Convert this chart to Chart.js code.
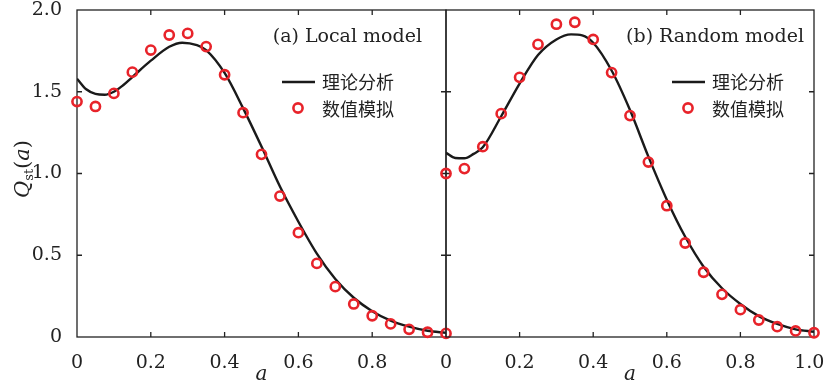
<!DOCTYPE html>
<html>
<head>
<meta charset="utf-8">
<script src="https://cdn.jsdelivr.net/npm/chart.js@4.4.0/dist/chart.umd.min.js"></script>
<style>
  html, body { margin: 0; padding: 0; background: #fff; }
  #wrap { position: relative; width: 825px; height: 387px; }
  #wrap canvas { position: absolute; left: 0; top: 0; }
</style>
</head>
<body>
<div id="wrap">
  <canvas id="chartLocal" width="825" height="387"></canvas>
  <canvas id="chartRandom" width="825" height="387"></canvas>
</div>
<script>
// simulation points (red circles), a = 0 .. 1 step 0.05
const simA = [0, 0.05, 0.1, 0.15, 0.2, 0.25, 0.3, 0.35, 0.4, 0.45, 0.5,
              0.55, 0.6, 0.65, 0.7, 0.75, 0.8, 0.85, 0.9, 0.95, 1.0];
const localSim = [1.44, 1.41, 1.49, 1.62, 1.755, 1.847, 1.857, 1.776, 1.604, 1.372, 1.117,
                  0.862, 0.638, 0.45, 0.308, 0.202, 0.13, 0.08, 0.047, 0.029, 0.022];
const randomSim = [1.0, 1.03, 1.164, 1.366, 1.588, 1.79, 1.913, 1.925, 1.82, 1.617, 1.354,
                   1.07, 0.803, 0.575, 0.396, 0.261, 0.167, 0.104, 0.063, 0.037, 0.026];

// theory curves (black lines)
const localCurveA = [0, 0.025, 0.05, 0.075, 0.1, 0.125, 0.15, 0.2, 0.25, 0.285, 0.325, 0.35,
                     0.4, 0.45, 0.5, 0.55, 0.6, 0.65, 0.7, 0.75, 0.8, 0.85, 0.9, 0.95, 1.0];
const localTheory = [1.58, 1.515, 1.487, 1.482, 1.50, 1.54, 1.59, 1.69, 1.775, 1.80, 1.785, 1.755,
                     1.615, 1.40, 1.165, 0.92, 0.705, 0.51, 0.355, 0.24, 0.158, 0.10, 0.063, 0.038, 0.025];
const randomCurveA = [0, 0.025, 0.05, 0.075, 0.1, 0.15, 0.2, 0.25, 0.3, 0.34, 0.37, 0.4,
                      0.45, 0.5, 0.55, 0.6, 0.65, 0.7, 0.75, 0.8, 0.85, 0.9, 0.95, 1.0];
const randomTheory = [1.127, 1.095, 1.093, 1.12, 1.16, 1.35, 1.55, 1.725, 1.82, 1.851, 1.845, 1.80,
                      1.63, 1.388, 1.103, 0.84, 0.613, 0.43, 0.298, 0.202, 0.128, 0.08, 0.047, 0.032];

const xTickLabels = ['0', '0.2', '0.4', '0.6', '0.8', '1.0'];
const yTickLabels = ['0', '0.5', '1.0', '1.5', '2.0'];
const legendLabels = ['理论分析', '数值模拟'];
const panelTitles = ['(a) Local model', '(b) Random model'];

const SERIF = "'DejaVu Serif', serif";
const CJK = "'Noto Sans CJK SC', sans-serif";
const RED = '#e8232a';
const INK = '#1a1a1a';

function toPoints(xs, ys) {
    return xs.map((x, i) => ({ x: x, y: ys[i] }));
}

// frame, inward ticks, panel title and legend
const panelPlugin = {
    id: 'panel',
    beforeDatasetsDraw(chart) {
        const ctx = chart.ctx;
        const a = chart.chartArea;
        const xs = chart.scales.x, ys = chart.scales.y;
        ctx.save();
        ctx.strokeStyle = '#222';
        ctx.lineWidth = 1.3;
        ctx.strokeRect(a.left, a.top, a.right - a.left, a.bottom - a.top);
        ctx.beginPath();
        xs.ticks.forEach(t => {
            const px = xs.getPixelForValue(t.value);
            if (px <= a.left + 1 || px >= a.right - 1) return;
            ctx.moveTo(px, a.bottom); ctx.lineTo(px, a.bottom - 5);
            ctx.moveTo(px, a.top); ctx.lineTo(px, a.top + 5);
        });
        ys.ticks.forEach(t => {
            const py = ys.getPixelForValue(t.value);
            if (py <= a.top + 1 || py >= a.bottom - 1) return;
            ctx.moveTo(a.left, py); ctx.lineTo(a.left + 5, py);
            ctx.moveTo(a.right, py); ctx.lineTo(a.right - 5, py);
        });
        ctx.stroke();
        ctx.restore();
    },
    afterDatasetsDraw(chart, args, opts) {
        const ctx = chart.ctx;
        const a = chart.chartArea;
        ctx.save();
        ctx.fillStyle = '#222';
        ctx.font = '19px ' + SERIF;
        ctx.textAlign = 'right';
        ctx.textBaseline = 'middle';
        ctx.fillText(opts.title, a.right - opts.titleGap, a.top + 27);

        const lx = a.right - opts.legendGap;
        ctx.strokeStyle = INK;
        ctx.lineWidth = 2.4;
        ctx.beginPath();
        ctx.moveTo(lx, a.top + 72);
        ctx.lineTo(lx + 33, a.top + 72);
        ctx.stroke();
        ctx.strokeStyle = RED;
        ctx.lineWidth = 2.6;
        ctx.beginPath();
        ctx.arc(lx + 16, a.top + 98, 4.6, 0, Math.PI * 2);
        ctx.stroke();
        ctx.font = '18px ' + CJK;
        ctx.textAlign = 'left';
        ctx.fillText(legendLabels[0], lx + 40, a.top + 72);
        ctx.fillText(legendLabels[1], lx + 40, a.top + 99);

        if (opts.yTitle) {
            ctx.translate(22, 169);
            ctx.rotate(-Math.PI / 2);
            ctx.textAlign = 'left';
            ctx.textBaseline = 'alphabetic';
            const parts = [
                { t: 'Q', f: 'italic 21px ' + SERIF, dy: 0 },
                { t: 'st', f: '13px ' + SERIF, dy: 4 },
                { t: '(', f: '21px ' + SERIF, dy: 0 },
                { t: 'a', f: 'italic 21px ' + SERIF, dy: 0 },
                { t: ')', f: '21px ' + SERIF, dy: 0 }
            ];
            let total = 0;
            parts.forEach(p => { ctx.font = p.f; p.w = ctx.measureText(p.t).width; total += p.w; });
            let x = -total / 2;
            parts.forEach(p => {
                ctx.font = p.f;
                ctx.fillText(p.t, x, 7 + p.dy);
                x += p.w;
            });
        }
        ctx.restore();
    }
};

function makePanel(id, curveA, theory, sim, panel) {
    const ctx = document.getElementById(id).getContext('2d');
    return new Chart(ctx, {
        type: 'scatter',
        data: {
            datasets: [
                {
                    label: legendLabels[1],
                    data: toPoints(simA, sim),
                    pointStyle: 'circle',
                    pointRadius: 4.6,
                    pointBorderWidth: 2.6,
                    pointBorderColor: RED,
                    pointBackgroundColor: 'rgba(0,0,0,0)',
                    borderColor: RED,
                    clip: false,
                    order: 0
                },
                {
                    label: legendLabels[0],
                    data: toPoints(curveA, theory),
                    showLine: true,
                    pointRadius: 0,
                    borderColor: INK,
                    borderWidth: 2.4,
                    cubicInterpolationMode: 'monotone',
                    order: 1
                }
            ]
        },
        options: {
            responsive: false,
            animation: false,
            events: [],
            layout: { padding: panel.padding },
            scales: {
                x: {
                    type: 'linear',
                    min: 0, max: 1,
                    grid: { display: false },
                    border: { display: false },
                    ticks: {
                        stepSize: 0.2,
                        padding: 7,
                        color: '#222',
                        font: { family: SERIF, size: 19 },
                        maxRotation: 0,
                        callback: v => {
                            const i = Math.round(v * 5);
                            if (panel.hideLastX && i === 5) return '';
                            // last label nudged left so it stays inside the page
                            if (i === 5) return xTickLabels[i] + '\u2002';
                            return xTickLabels[i];
                        }
                    },
                    title: {
                        display: true,
                        text: 'a',
                        color: '#222',
                        font: { family: SERIF, size: 20, style: 'italic' },
                        padding: { top: 0, bottom: 0 }
                    },
                    afterFit: s => { s.height = 50; s.paddingLeft = 0; s.paddingRight = 0; }
                },
                y: {
                    type: 'linear',
                    min: 0, max: 2,
                    display: panel.showY,
                    grid: { display: false },
                    border: { display: false },
                    ticks: {
                        stepSize: 0.5,
                        padding: 7,
                        color: '#222',
                        font: { family: SERIF, size: 19 },
                        callback: v => yTickLabels[Math.round(v * 2)]
                    },
                    afterFit: s => { s.width = panel.showY ? 77 : 0; s.paddingTop = 0; s.paddingBottom = 0; }
                }
            },
            plugins: {
                legend: { display: false },
                tooltip: { enabled: false },
                panel: panel.deco
            }
        },
        plugins: [panelPlugin]
    });
}

makePanel('chartLocal', localCurveA, localTheory, localSim, {
    padding: { left: 0, right: 379, top: 10, bottom: 0 },
    showY: true,
    hideLastX: true,
    deco: { title: panelTitles[0], titleGap: 24, legendGap: 164, yTitle: true }
});
makePanel('chartRandom', randomCurveA, randomTheory, randomSim, {
    padding: { left: 446, right: 11, top: 10, bottom: 0 },
    showY: false,
    hideLastX: false,
    deco: { title: panelTitles[1], titleGap: 10, legendGap: 142, yTitle: false }
});
</script>
</body>
</html>
